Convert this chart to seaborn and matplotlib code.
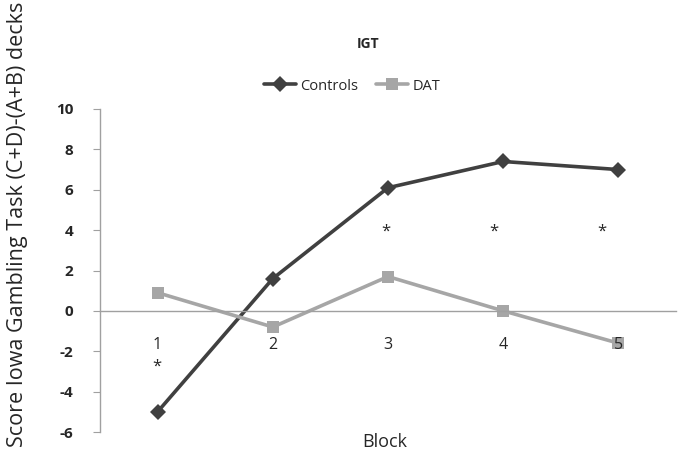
import pandas as pd
import matplotlib
matplotlib.use("Agg")
import matplotlib.pyplot as plt
import seaborn as sns

# Datos
bloques = [1, 2, 3, 4, 5]
controles = [-5.0, 1.6, 6.1, 7.4, 7.0]
dat = [0.9, -0.8, 1.7, 0.0, -1.6]
asteriscos_x = [0.99, 2.98, 3.92, 4.86]
asteriscos_y = [-2.75, 3.9, 3.9, 3.9]
y_ticks = [-6, -4, -2, 0, 2, 4, 6, 8, 10]

df = pd.DataFrame({
    'Block': bloques * 2,
    'Score': controles + dat,
    'Grupo': ['Controls'] * 5 + ['DAT'] * 5,
})

sns.set_style('white')
plt.rcParams['font.family'] = ['Open Sans', 'DejaVu Sans']

fig = plt.figure(figsize=(6.78, 4.58), dpi=100)
ax = fig.add_axes([100 / 678, 26 / 458, 576 / 678, 323 / 458])

sns.lineplot(data=df, x='Block', y='Score', hue='Grupo', style='Grupo',
             palette={'Controls': '#404040', 'DAT': '#a6a6a6'},
             markers={'Controls': 'D', 'DAT': 's'}, dashes=False,
             linewidth=2.6, markersize=8, markeredgewidth=0, ax=ax)

ax.set_xlim(0.5, 5.5)
ax.set_ylim(-6, 10)
ax.set_yticks(y_ticks)
ax.set_yticklabels([str(v) for v in y_ticks], fontsize=11, fontweight='bold')

# eje x en y=0, como en Excel
for lado in ['top', 'right']:
    ax.spines[lado].set_visible(False)
ax.spines['bottom'].set_position(('data', 0))
for lado in ['left', 'bottom']:
    ax.spines[lado].set_color('#a0a0a0')
    ax.spines[lado].set_linewidth(1.0)

ax.set_xticks(bloques)
ax.set_xticklabels([str(b) for b in bloques], fontsize=11.5)
ax.set_xticks([1.5, 2.5, 3.5, 4.5, 5.5], minor=True)
ax.tick_params(axis='x', which='major', length=0, pad=19)
ax.tick_params(axis='x', which='minor', direction='out', length=5, color='#a0a0a0')
ax.tick_params(axis='y', direction='out', length=5, color='#a0a0a0', left=True, pad=14)
ax.xaxis.set_zorder(3)  # el "5" queda encima del marcador

for x, y in zip(asteriscos_x, asteriscos_y):
    ax.text(x, y, '*', ha='center', va='center', fontsize=12)

ax.set_xlabel('')
ax.set_ylabel('')
fig.text(385 / 678, 1 - 442 / 458, 'Block', ha='center', va='center', fontsize=13)
fig.text(18 / 678, 1 - 224 / 458, 'Score Iowa Gambling Task (C+D)-(A+B) decks',
         rotation=90, ha='center', va='center', fontsize=15.5)
fig.text(368 / 678, 1 - 44 / 458, 'IGT', ha='center', va='center',
         fontsize=10, fontweight='bold')

handles, labels = ax.get_legend_handles_labels()
ax.legend(handles, labels, loc='center', bbox_to_anchor=(352 / 678, 1 - 86 / 458),
          bbox_transform=fig.transFigure, ncol=2, frameon=False, fontsize=10.5,
          handlelength=2.2, handletextpad=0.3, columnspacing=1.2)

fig.savefig('out.png', dpi=100)
